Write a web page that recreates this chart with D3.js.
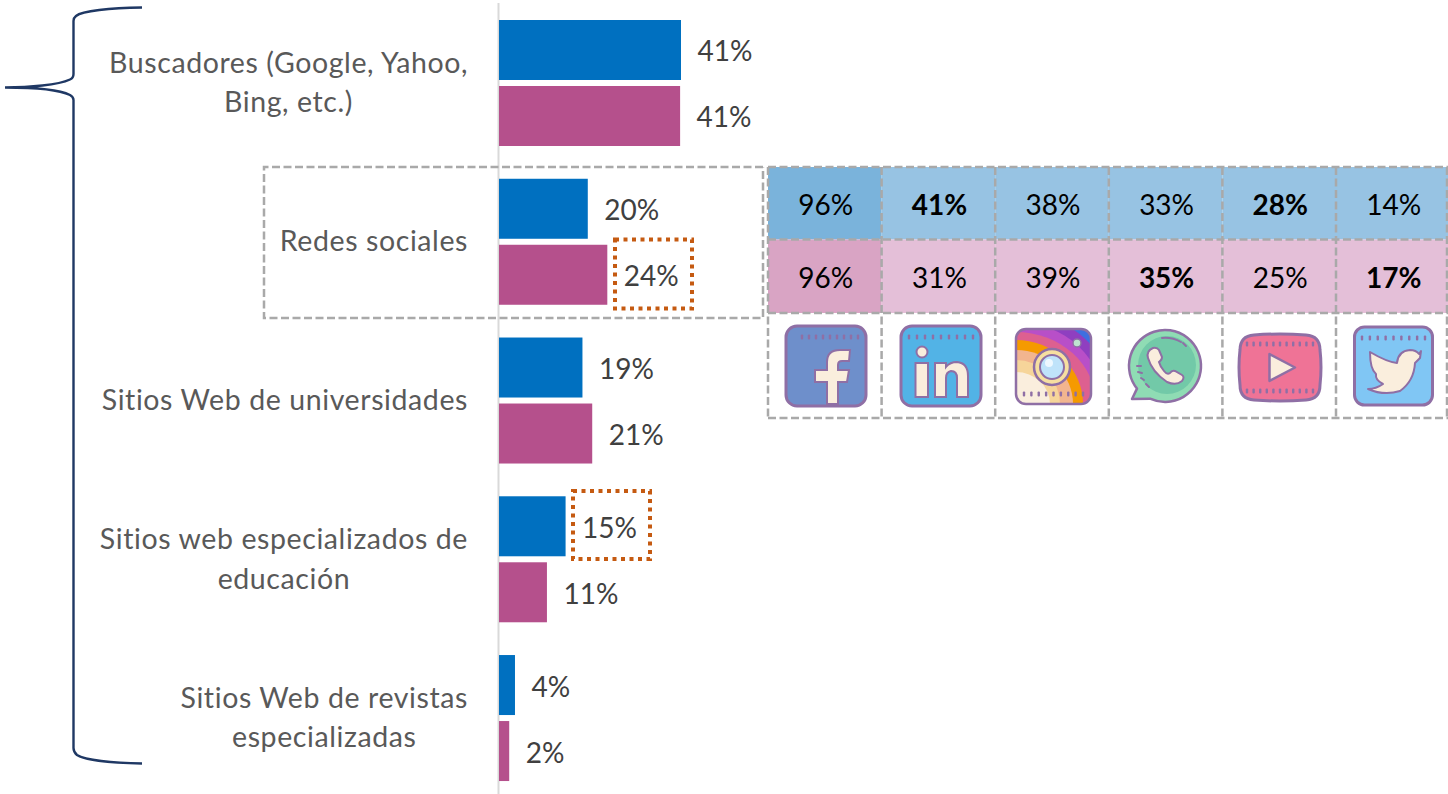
<!DOCTYPE html>
<html><head><meta charset="utf-8">
<script src="https://cdn.jsdelivr.net/npm/d3@7"></script>
<style>html,body{margin:0;padding:0;background:#fff;overflow:hidden}svg{display:block}text{font-family:Lato,"Open Sans",sans-serif}</style>
</head><body><svg id="c" width="1448" height="794"></svg>
<script>
const categories=["Buscadores (Google, Yahoo, Bing, etc.)","Redes sociales","Sitios Web de universidades","Sitios web especializados de educación","Sitios Web de revistas especializadas"];
const categoryLines=[["Buscadores (Google, Yahoo,","Bing, etc.)"],["Redes sociales"],["Sitios Web de universidades"],["Sitios web especializados de","educación"],["Sitios Web de revistas","especializadas"]];
const seriesNames=["A","B"];
const seriesA=[41,20,18.8,15,3.6];
const seriesB=[40.8,24.4,21,10.8,2.3];
const labelsA=["41%","20%","19%","15%","4%"];
const labelsB=["41%","24%","21%","11%","2%"];
const networks=["Facebook","LinkedIn","Instagram","WhatsApp","YouTube","Twitter"];
const netA=[96,41,38,33,28,14];
const netB=[96,31,39,35,25,17];
const boldA=[false,true,false,false,true,false];
const boldB=[false,false,false,true,false,true];
const colors={A:"#0070c0",B:"#b5508c"};

const svg=d3.select("#c");
const x=d3.scaleLinear().domain([0,41]).range([499,681]);
const y0=d3.scaleBand().domain(categories).range([3.6,797.4]);
const y1=d3.scaleBand().domain(seriesNames).range([16.4,142.4]).paddingInner(6/66);
const FS=28, CFS=28.5;

svg.append("line").attr("x1",498.5).attr("x2",498.5).attr("y1",3).attr("y2",794).attr("stroke","#d9d9d9").attr("stroke-width",2);

svg.append("path").attr("fill","none").attr("stroke","#1f3864").attr("stroke-width",2.4)
 .attr("d","M142,7.5 C110,8 82,11 76,16 Q73.5,18 73.5,21 L73.5,74 Q73.5,78 70,79.5 C58,85 30,87.5 5,87.5 C30,87.5 58,89 70,95 Q73.5,97 73.5,100 L73.5,748 Q73.5,752 77,755 C85,760 112,763 142,763.5");

const g=svg.selectAll("g.cat").data(categories).join("g").attr("class","cat").attr("transform",d=>`translate(0,${y0(d)})`);
[["A",seriesA,labelsA],["B",seriesB,labelsB]].forEach(([s,vals,labs])=>{
 g.append("rect").attr("x",x(0)).attr("y",y1(s)).attr("height",y1.bandwidth())
  .attr("width",(d,i)=>x(vals[i])-x(0)).attr("fill",colors[s]);
 g.append("text").attr("x",(d,i)=>x(vals[i])+16.5).attr("y",y1(s)+y1.bandwidth()/2+11.5)
  .attr("font-size",FS).attr("fill","#404040").text((d,i)=>labs[i]);
});

const lineH=39.5;
g.each(function(d,i){
 const lines=categoryLines[i];
 const t=d3.select(this).append("g");
 const els=lines.map((l,j)=>t.append("text").attr("y",y0.bandwidth()/2+9.5+(j-(lines.length-1)/2)*lineH).attr("font-size",CFS).attr("letter-spacing",0.6).attr("fill","#595959").text(l));
 const w=Math.max(...els.map(e=>e.node().getComputedTextLength()));
 const cx=468-w/2;
 els.forEach(e=>e.attr("x",cx).attr("text-anchor","middle"));
});

const col=d3.scaleBand().domain(networks).range([768,1449.6]);
const colStep=col.step();
const colX=i=>768+i*colStep;
const rowY=[167,239.5,313,418];
const tbl=svg.append("g");
networks.forEach((n,i)=>{
 tbl.append("rect").attr("x",col(n)).attr("y",rowY[0]).attr("width",colStep).attr("height",rowY[1]-rowY[0]).attr("fill",i==0?"#7ab3db":"#97c3e3");
 tbl.append("rect").attr("x",col(n)).attr("y",rowY[1]).attr("width",colStep).attr("height",rowY[2]-rowY[1]).attr("fill",i==0?"#d9a4c4":"#e4bfd8");
 tbl.append("text").attr("x",col(n)+colStep/2+1).attr("y",(rowY[0]+rowY[1])/2+12).attr("text-anchor","middle").attr("font-size",FS).attr("font-weight",boldA[i]?700:400).attr("fill","#000").text(netA[i]+"%");
 tbl.append("text").attr("x",col(n)+colStep/2+1).attr("y",(rowY[1]+rowY[2])/2+12).attr("text-anchor","middle").attr("font-size",FS).attr("font-weight",boldB[i]?700:400).attr("fill","#000").text(netB[i]+"%");
});
const DA="8 3.5";
const dash=(x1,y1_,x2,y2)=>svg.append("line").attr("x1",x1).attr("y1",y1_).attr("x2",x2).attr("y2",y2).attr("stroke","#a9a9a9").attr("stroke-width",2.5).attr("stroke-dasharray",DA);
rowY.forEach(r=>dash(768,r,1448,r));
d3.range(0,6).forEach(i=>dash(colX(i),rowY[0],colX(i),rowY[3]));
dash(1447,rowY[0],1447,rowY[3]);

svg.append("path").attr("fill","none").attr("stroke","#a9a9a9").attr("stroke-width",2.5).attr("stroke-dasharray",DA)
 .attr("d","M763,167 L264,167 L264,318 L763,318 L763,167");
[[615,239.5,77,69],[573,491,77,68]].forEach(b=>svg.append("rect").attr("x",b[0]).attr("y",b[1]).attr("width",b[2]).attr("height",b[3]).attr("fill","none").attr("stroke","#c55a11").attr("stroke-width",4).attr("stroke-dasharray","4 4.5"));

const ST="#8f6fa5",CR="#faeedd";
function dots(p,x1,x2,yy,n){const s=p.append("g");d3.range(n).forEach(i=>s.append("rect").attr("x",x1+(x2-x1)*i/(n-1)-1.2).attr("y",yy-2.5).attr("width",2.4).attr("height",5).attr("rx",1).attr("fill",ST));}
// facebook
let p=svg.append("g");
p.append("rect").attr("x",786).attr("y",326).attr("width",80).attr("height",80).attr("rx",11).attr("fill","#6e8fcb").attr("stroke",ST).attr("stroke-width",3);
dots(p,802,858,337,9);
p.append("path").attr("d","M827,404 L827,382 L815,382 L815,370 L827,370 L827,362 Q827,350 840,350 L850,350 L849,361 L842,361 Q838,361 838,365 L838,370 L849,370 L847,382 L838,382 L838,404 Z").attr("fill",CR).attr("stroke",ST).attr("stroke-width",2);
// linkedin
p=svg.append("g");
p.append("rect").attr("x",901).attr("y",326).attr("width",80).attr("height",80).attr("rx",11).attr("fill","#52b3e6").attr("stroke",ST).attr("stroke-width",3);
dots(p,909,973,337,9);
p.append("circle").attr("cx",922).attr("cy",352).attr("r",5.5).attr("fill",CR).attr("stroke",ST).attr("stroke-width",2);
p.append("rect").attr("x",915.5).attr("y",363).attr("width",12.5).attr("height",34).attr("fill",CR).attr("stroke",ST).attr("stroke-width",2);
p.append("path").attr("d","M935,363 L946,363 L946,367 Q950,362 957,362 Q968,363 968,376 L968,397 L957,397 L957,378 Q957,371 951,371 Q946,372 946,378 L946,397 L935,397 Z").attr("fill",CR).attr("stroke",ST).attr("stroke-width",2);
// instagram
p=svg.append("g");
svg.append("defs").append("clipPath").attr("id","igclip").append("rect").attr("x",1016).attr("y",329).attr("width",75).attr("height",75).attr("rx",10);
const ig=p.append("g").attr("clip-path","url(#igclip)");
ig.append("rect").attr("x",1016).attr("y",329).attr("width",75).attr("height",75).attr("fill","#3f6fe0");
[[98,92,"#8f3fc0"],[88,82,"#b84fc8"],[80,72,"#dd6090"],[67,64,"#f59a00"],[57,54,"#f2b58f"],[44,44,"#f6d59a"],[34,32,"#faeedd"]].forEach(a=>ig.append("ellipse").attr("cx",1016).attr("cy",404).attr("rx",a[0]).attr("ry",a[1]).attr("fill",a[2]));
p.append("rect").attr("x",1016).attr("y",329).attr("width",75).attr("height",75).attr("rx",10).attr("fill","none").attr("stroke",ST).attr("stroke-width",2.5);
dots(p,1024,1083,394,9);
p.append("circle").attr("cx",1052).attr("cy",367).attr("r",18).attr("fill","#f6dfa0").attr("stroke",ST).attr("stroke-width",2.5);
p.append("circle").attr("cx",1052).attr("cy",367).attr("r",12).attr("fill","#bfe3fa").attr("stroke",ST).attr("stroke-width",2);
p.append("circle").attr("cx",1049).attr("cy",363).attr("r",4).attr("fill","#eef8ff");
p.append("circle").attr("cx",1077).attr("cy",343).attr("r",4).attr("fill","#bfe3d0").attr("stroke",ST).attr("stroke-width",1.5);
// whatsapp
p=svg.append("g");
p.append("path").attr("d","M1132,399 L1137,388.6 A36,36 0 1 1 1150,398.7 Z").attr("fill","#8fdcb4").attr("stroke",ST).attr("stroke-width",2.5).attr("stroke-linejoin","round");
p.append("circle").attr("cx",1167).attr("cy",365).attr("r",29).attr("fill","#72c9a8");
p.append("path").attr("d","M1153,348 Q1146,351 1148,358 Q1152,372 1167,382 Q1176,386 1182,381 Q1185,377 1182,375 L1175,371 Q1172,370 1170,373 Q1167,375 1164,371 Q1160,366 1159,362 Q1162,360 1162,357 L1159,350 Q1157,347 1153,348 Z").attr("fill",CR).attr("stroke",ST).attr("stroke-width",2);
p.append("path").attr("d","M1162,338 Q1172,337 1181,342 M1183,343 L1186,346").attr("fill","none").attr("stroke",ST).attr("stroke-width",2).attr("stroke-linecap","round");
p.append("path").attr("d","M1137,366 L1141,366 M1138,372 L1142,373 M1141,378 L1144,380 M1146,384 L1149,387").attr("fill","none").attr("stroke",ST).attr("stroke-width",2).attr("stroke-linecap","round");
// youtube
p=svg.append("g");
p.append("path").attr("d","M1254,335 Q1280,333 1306,335 Q1320,336 1320,350 Q1322,367 1320,385 Q1320,399 1306,400 Q1280,402 1254,400 Q1240,399 1240,385 Q1238,367 1240,350 Q1240,336 1254,335 Z").attr("fill","#ef7396").attr("stroke",ST).attr("stroke-width",3);
dots(p,1247,1313,344,11);dots(p,1247,1313,391,11);
p.append("path").attr("d","M1269.5,354 L1295,367.5 L1269.5,381 Z").attr("fill",CR).attr("stroke",ST).attr("stroke-width",2.5).attr("stroke-linejoin","round");
// twitter
p=svg.append("g");
p.append("rect").attr("x",1354.5).attr("y",327).attr("width",78).attr("height",78).attr("rx",10).attr("fill","#80c6f4").attr("stroke",ST).attr("stroke-width",3);
dots(p,1362,1425,338,9);
p.append("path").attr("d","M1370,352 Q1387,362 1397,363 Q1398,351 1410,350 Q1416,350 1419,354 L1421,351 L1420,358 L1415,363 Q1414,381 1400,391 Q1384,396 1368,389 Q1376,389 1383,384 Q1375,380 1376,374 Q1370,369 1370,352 Z").attr("fill",CR).attr("stroke",ST).attr("stroke-width",2).attr("stroke-linejoin","round");
</script></body></html>
